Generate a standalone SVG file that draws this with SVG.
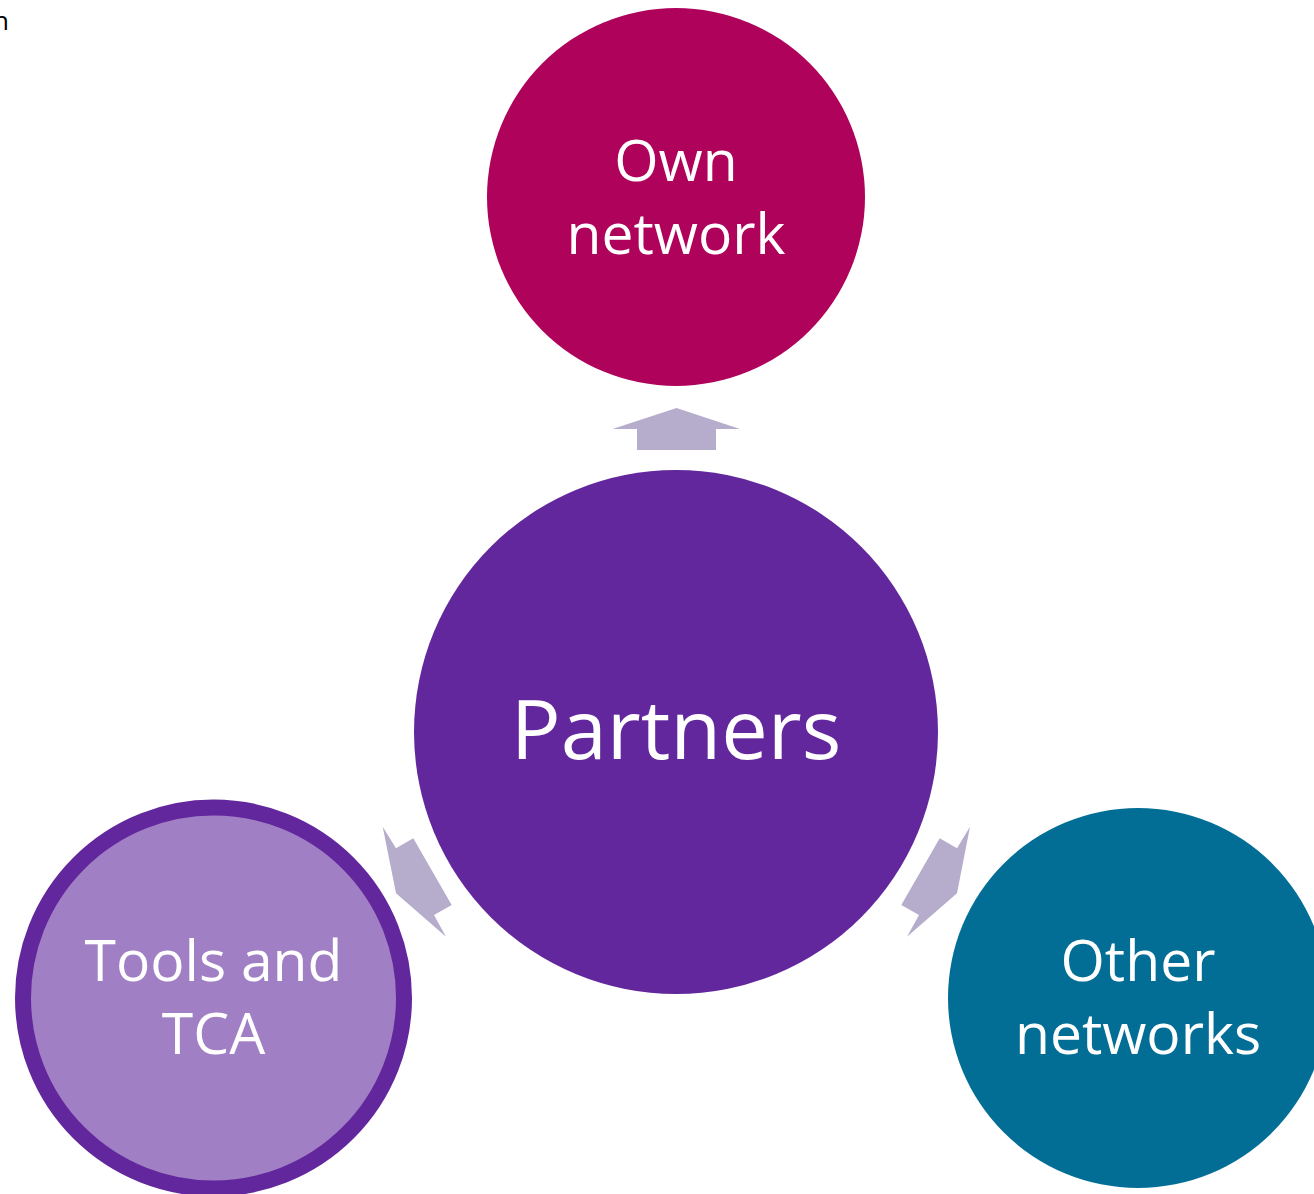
<svg xmlns="http://www.w3.org/2000/svg" width="1314" height="1194" viewBox="0 0 1314 1194">
<style>
.lbl{font-family:"Open Sans","Noto Sans",sans-serif;fill:#ffffff;text-anchor:middle}
.arr{fill:#B6ADCC}
</style>
<rect width="1314" height="1194" fill="#ffffff"/>
<text x="-7" y="30" style="font-family:'Open Sans',sans-serif;font-size:26px;fill:#000">n</text>
<g id="connectors">
<polygon class="arr" points="676.5,408 740,429 716,429 716,450 637,450 637,429 612.5,429"/>
<polygon class="arr" points="382.7,826.7 396,848.3 413.3,838.3 451.7,905 434,915 446,936.7 396,893.3"/>
<polygon class="arr" points="970,826.7 957,848.3 939.7,838.3 901.3,905 919,915 907,936.7 957,893.3"/>
</g>
<g id="node-own-network">
<circle cx="676" cy="197" r="189" fill="#AF025B"/>
<text class="lbl" x="676" y="181" font-size="57">Own</text>
<text class="lbl" x="676" y="254" font-size="57">network</text>
</g>
<g id="node-partners">
<circle cx="676" cy="732" r="262" fill="#63279D"/>
<text class="lbl" x="676" y="759" font-size="83">Partners</text>
</g>
<g id="node-tools">
<circle cx="213.5" cy="998" r="190.5" fill="#A17FC4" stroke="#63279D" stroke-width="16"/>
<text class="lbl" x="213.5" y="981" font-size="57">Tools and</text>
<text class="lbl" x="213.5" y="1054" font-size="57">TCA</text>
</g>
<g id="node-other-networks">
<circle cx="1138" cy="998" r="190" fill="#026E96"/>
<text class="lbl" x="1138" y="981" font-size="57">Other</text>
<text class="lbl" x="1138" y="1054" font-size="57">networks</text>
</g>
</svg>
